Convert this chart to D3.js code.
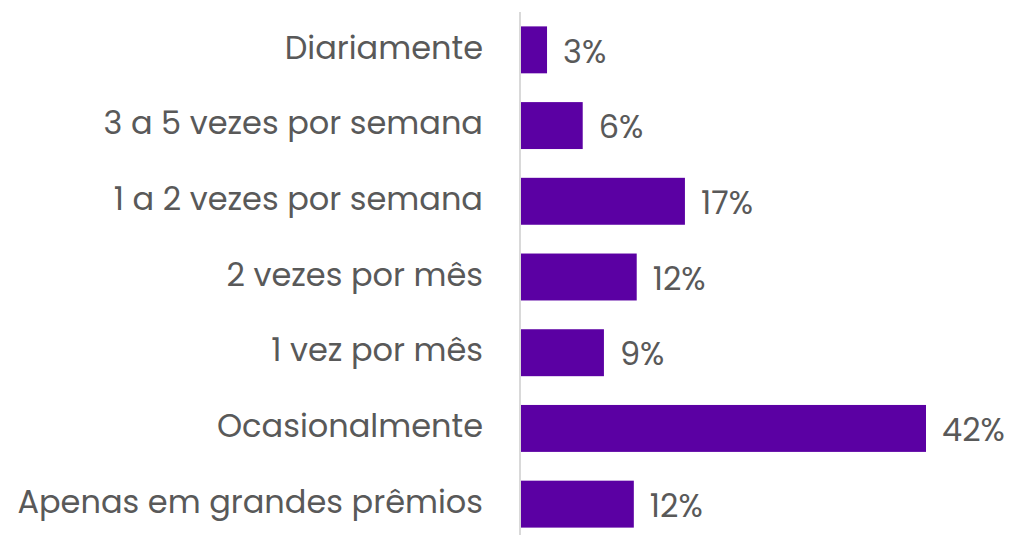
<!DOCTYPE html>
<html><head>
<meta charset="utf-8">
<script src="https://d3js.org/d3.v7.min.js"></script>
<style>
  body { margin: 0; background: #fff; }
  text { font-family: "Poppins", "Open Sans", sans-serif; fill: #595959; }
</style>
</head>
<body>
<svg id="chart" width="1009" height="535"></svg>
<script>
  // categories, top to bottom
  const categories = ["Diariamente", "3 a 5 vezes por semana", "1 a 2 vezes por semana",
                      "2 vezes por mês", "1 vez por mês", "Ocasionalmente", "Apenas em grandes prêmios"];
  // share of respondents (%)
  const values = [2.7, 6.4, 17.0, 12.0, 8.6, 42.0, 11.7];

  const svg = d3.select("svg#chart");
  const margin = {top: 12, left: 520};

  const x = d3.scaleLinear().domain([0, 42]).range([0, 405]);
  const y = d3.scaleBand().domain(categories).range([0, 530]).paddingInner(0.38).paddingOuter(0.19);

  const chartArea = svg.append("g")
    .attr("transform", "translate(" + margin.left + "," + margin.top + ")");

  chartArea.selectAll("rect")
    .data(categories)
    .enter().append("rect")
    .attr("x", 1)
    .attr("y", d => y(d))
    .attr("width", (d, i) => x(values[i]))
    .attr("height", y.bandwidth())
    .attr("fill", "#5b00a3");

  // value labels
  chartArea.selectAll("text.val")
    .data(categories)
    .enter().append("text")
    .attr("class", "val")
    .attr("x", (d, i) => x(values[i]) + 17)
    .attr("y", d => y(d) + y.bandwidth() / 2 + 4)
    .attr("dominant-baseline", "middle")
    .style("font-size", "32px")
    .text((d, i) => Math.round(values[i]) + "%");

  // left axis: only a vertical line and labels
  let leftAxis = d3.axisLeft(y).tickSize(0).tickPadding(37);
  let axisG = chartArea.append("g").call(leftAxis);
  axisG.select(".domain").attr("stroke", "#d9d9d9").attr("stroke-width", 2)
       .attr("d", "M0,0V530");
  axisG.selectAll("text")
    .attr("dy", null)
    .attr("dominant-baseline", "middle")
    .style("font-size", "32px")
    .style("font-family", null)
    .attr("fill", null);
  axisG.attr("font-family", null).attr("font-size", null);
</script>
</body>
</html>
